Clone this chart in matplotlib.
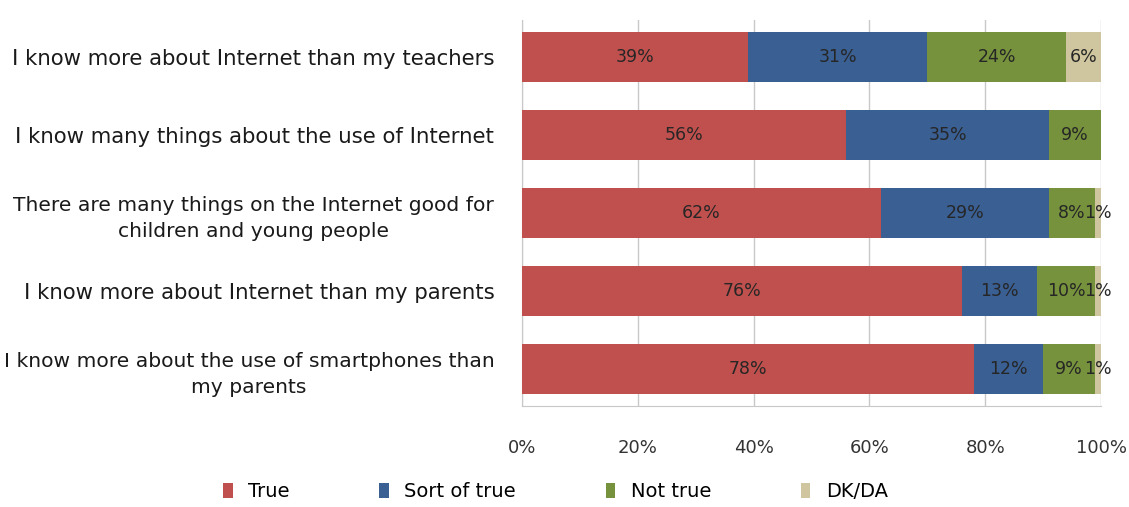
import numpy as np
import matplotlib.pyplot as plt
import matplotlib.transforms as mtransforms

categories = [
    "I know more about Internet than my teachers",
    "I know many things about the use of Internet",
    "There are many things on the Internet good for\nchildren and young people",
    "I know more about Internet than my parents",
    "I know more about the use of smartphones than\nmy parents",
]
series = ["True", "Sort of true", "Not true", "DK/DA"]
true_vals = [39, 56, 62, 76, 78]
sort_vals = [31, 35, 29, 13, 12]
not_vals = [24, 9, 8, 10, 9]
dk_vals = [6, 0, 1, 1, 1]
xticks = [0, 20, 40, 60, 80, 100]

colors = ["#C0504D", "#395F93", "#76923C", "#CFC6A0"]

fig = plt.figure(figsize=(11.29, 5.07), dpi=100)
ax = fig.add_axes([0.4624, 0.199, 0.5128, 0.7616])

y = np.arange(len(categories))
left = np.zeros(len(categories))
for name, vals, col in zip(series, [true_vals, sort_vals, not_vals, dk_vals], colors):
    vals = np.array(vals, dtype=float)
    bars = ax.barh(y, vals, left=left, height=0.64, color=col, label=name, zorder=3)
    for b, v in zip(bars, vals):
        if v > 0:
            ax.text(b.get_x() + b.get_width() / 2, b.get_y() + b.get_height() / 2,
                    f"{int(v)}%", ha="center", va="center", fontsize=12.5,
                    color="#262626", zorder=4)
    left += vals

ax.set_xlim(0, 100)
ax.set_ylim(4.47, -0.47)
ax.set_xticks(xticks)
ax.set_xticklabels([f"{t}%" for t in xticks], fontsize=13, color="#333333")
ax.set_yticks(y)
ax.set_yticklabels(categories, fontsize=15.3, color="#1a1a1a",
                   multialignment="center", linespacing=1.45)
shift = mtransforms.ScaledTranslation(0, -5 / 100, fig.dpi_scale_trans)
for lbl in ax.get_yticklabels():
    if "\n" in lbl.get_text():
        lbl.set_fontsize(14.6)
    lbl.set_transform(lbl.get_transform() + shift)
ax.tick_params(axis="both", length=0)
ax.tick_params(axis="x", pad=24)
ax.tick_params(axis="y", pad=20)
ax.grid(axis="x", color="#c8c8c8", linewidth=1, zorder=0)
for s in ["top", "right"]:
    ax.spines[s].set_visible(False)
for s in ["left", "bottom"]:
    ax.spines[s].set_color("#c8c8c8")

fig.legend(loc="center", bbox_to_anchor=(0.492, 0.03), ncol=4, frameon=False,
           fontsize=14, handlelength=0.5, handleheight=0.8, handletextpad=0.8,
           columnspacing=4.6)

plt.savefig("out.png", dpi=100)
